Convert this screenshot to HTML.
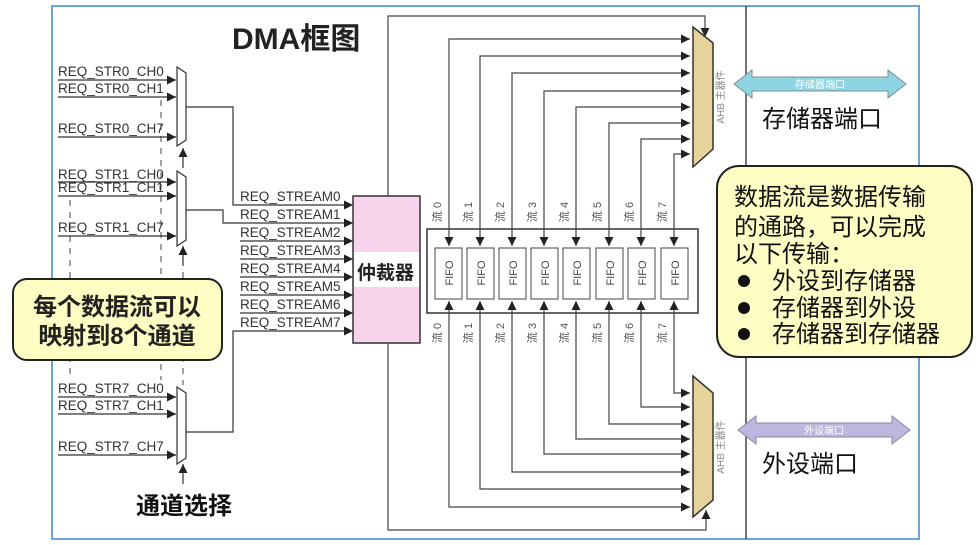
<!DOCTYPE html>
<html><head><meta charset="utf-8"><style>
html,body{margin:0;padding:0;background:#fff;}
svg{display:block;}
text{font-family:"Liberation Sans","Noto Sans CJK SC",sans-serif;}
</style></head><body>
<svg width="977" height="545" viewBox="0 0 977 545" xmlns="http://www.w3.org/2000/svg">
<defs>
<marker id="a" viewBox="0 0 10 10" refX="10" refY="5" markerWidth="9" markerHeight="9" markerUnits="userSpaceOnUse" orient="auto-start-reverse">
<path d="M0,0 L10,5 L0,10 z" fill="#222"/>
</marker>
</defs>
<rect x="52" y="6" width="867" height="533" fill="#fff" stroke="#6aa3df" stroke-width="2"/>
<line x1="746" y1="6" x2="746" y2="539" stroke="#444" stroke-width="1.5"/>
<text x="232" y="49" font-size="30" font-weight="bold" fill="#222">DMA框图</text>

<g stroke="#444" stroke-width="1" stroke-dasharray="6,6" fill="none">
<line x1="70" y1="200" x2="70" y2="380"/>
<line x1="161" y1="100" x2="161" y2="380"/>
<line x1="183" y1="150" x2="183" y2="168"/>
<line x1="183" y1="248" x2="183" y2="385"/>
</g>

<g font-size="13.5" fill="#333" stroke="none">
<text x="58" y="76">REQ_STR0_CH0</text>
<text x="58" y="93">REQ_STR0_CH1</text>
<text x="58" y="133">REQ_STR0_CH7</text>
<text x="58" y="179">REQ_STR1_CH0</text>
<text x="58" y="192">REQ_STR1_CH1</text>
<text x="58" y="232">REQ_STR1_CH7</text>
<text x="58" y="393">REQ_STR7_CH0</text>
<text x="58" y="410">REQ_STR7_CH1</text>
<text x="58" y="451">REQ_STR7_CH7</text>
</g>
<g stroke="#333" stroke-width="1.2" fill="none">
<line x1="58" y1="80" x2="176" y2="80" marker-end="url(#a)"/>
<line x1="58" y1="97" x2="176" y2="97" marker-end="url(#a)"/>
<line x1="58" y1="137" x2="176" y2="137" marker-end="url(#a)"/>
<line x1="58" y1="182" x2="176" y2="182" marker-end="url(#a)"/>
<line x1="58" y1="196" x2="176" y2="196" marker-end="url(#a)"/>
<line x1="58" y1="236" x2="176" y2="236" marker-end="url(#a)"/>
<line x1="58" y1="397" x2="176" y2="397" marker-end="url(#a)"/>
<line x1="58" y1="414" x2="176" y2="414" marker-end="url(#a)"/>
<line x1="58" y1="455" x2="176" y2="455" marker-end="url(#a)"/>
<line x1="183" y1="168" x2="183" y2="148" marker-end="url(#a)"/>
<line x1="183" y1="266" x2="183" y2="246" marker-end="url(#a)"/>
<line x1="183" y1="484" x2="183" y2="464" marker-end="url(#a)"/>
<polygon points="177,67 186,73 186,140 177,146" fill="#fff"/>
<polygon points="177,171 186,177 186,240 177,246" fill="#fff"/>
<polygon points="177,387 186,393 186,458 177,464" fill="#fff"/>
<polyline points="186,107 233,107 233,205 353,205" marker-end="url(#a)"/>
<polyline points="186,210 223,210 223,223 353,223" marker-end="url(#a)"/>
<polyline points="186,432 233,432 233,331 353,331" marker-end="url(#a)"/>
<line x1="240" y1="241" x2="353" y2="241" marker-end="url(#a)"/>
<line x1="240" y1="259" x2="353" y2="259" marker-end="url(#a)"/>
<line x1="240" y1="277" x2="353" y2="277" marker-end="url(#a)"/>
<line x1="240" y1="295" x2="353" y2="295" marker-end="url(#a)"/>
<line x1="240" y1="313" x2="353" y2="313" marker-end="url(#a)"/>
</g>
<g font-size="13.5" fill="#333">
<text x="240" y="201">REQ_STREAM0</text>
<text x="240" y="219">REQ_STREAM1</text>
<text x="240" y="237">REQ_STREAM2</text>
<text x="240" y="255">REQ_STREAM3</text>
<text x="240" y="273">REQ_STREAM4</text>
<text x="240" y="291">REQ_STREAM5</text>
<text x="240" y="309">REQ_STREAM6</text>
<text x="240" y="327">REQ_STREAM7</text>
</g>

<rect x="353" y="196" width="67" height="147" fill="#f7d3ec" stroke="#333" stroke-width="1.5"/>
<rect x="354" y="252" width="65" height="35" fill="#fff"/>
<text x="357" y="279" font-size="19" font-weight="bold" fill="#222">仲裁器</text>
<g stroke="#444" stroke-width="1.2" fill="none">
<polyline points="388,196 388,16 705,16 705,37" marker-end="url(#a)"/>
<polyline points="388,343 388,530 706,530 706,510" marker-end="url(#a)"/>
</g>

<rect x="427" y="229" width="271" height="84" fill="#fff" stroke="#333" stroke-width="1.5"/>
<g stroke="#444" stroke-width="1" fill="#fff">
<rect x="435" y="248" width="27" height="51"/><rect x="467" y="248" width="27" height="51"/>
<rect x="499" y="248" width="27" height="51"/><rect x="531" y="248" width="27" height="51"/>
<rect x="563" y="248" width="27" height="51"/><rect x="596" y="248" width="27" height="51"/>
<rect x="628" y="248" width="27" height="51"/><rect x="661" y="248" width="27" height="51"/>
</g>
<g font-size="11" fill="#444" text-anchor="middle">
<text transform="translate(453,273) rotate(-90)">FIFO</text>
<text transform="translate(485,273) rotate(-90)">FIFO</text>
<text transform="translate(517,273) rotate(-90)">FIFO</text>
<text transform="translate(549,273) rotate(-90)">FIFO</text>
<text transform="translate(581,273) rotate(-90)">FIFO</text>
<text transform="translate(614,273) rotate(-90)">FIFO</text>
<text transform="translate(646,273) rotate(-90)">FIFO</text>
<text transform="translate(679,273) rotate(-90)">FIFO</text>
</g>
<g stroke="#444" stroke-width="1.2" fill="none">
<polyline points="449,246 449,39 690,39" marker-start="url(#a)" marker-end="url(#a)"/>
<polyline points="480,246 480,56 690,56" marker-start="url(#a)" marker-end="url(#a)"/>
<polyline points="512,246 512,73 690,73" marker-start="url(#a)" marker-end="url(#a)"/>
<polyline points="544,246 544,91 690,91" marker-start="url(#a)" marker-end="url(#a)"/>
<polyline points="576,246 576,107 690,107" marker-start="url(#a)" marker-end="url(#a)"/>
<polyline points="609,246 609,123 690,123" marker-start="url(#a)" marker-end="url(#a)"/>
<polyline points="641,246 641,139 690,139" marker-start="url(#a)" marker-end="url(#a)"/>
<polyline points="674,246 674,154 690,154" marker-start="url(#a)" marker-end="url(#a)"/>
<polyline points="449,301 449,507 690,507" marker-start="url(#a)" marker-end="url(#a)"/>
<polyline points="480,301 480,489 690,489" marker-start="url(#a)" marker-end="url(#a)"/>
<polyline points="512,301 512,472 690,472" marker-start="url(#a)" marker-end="url(#a)"/>
<polyline points="544,301 544,454 690,454" marker-start="url(#a)" marker-end="url(#a)"/>
<polyline points="576,301 576,439 690,439" marker-start="url(#a)" marker-end="url(#a)"/>
<polyline points="609,301 609,424 690,424" marker-start="url(#a)" marker-end="url(#a)"/>
<polyline points="641,301 641,407 690,407" marker-start="url(#a)" marker-end="url(#a)"/>
<polyline points="674,301 674,393 690,393" marker-start="url(#a)" marker-end="url(#a)"/>
</g>
<g font-size="11" fill="#555" text-anchor="middle">
<text transform="translate(441,212) rotate(-90)">流 0</text>
<text transform="translate(472,212) rotate(-90)">流 1</text>
<text transform="translate(504,212) rotate(-90)">流 2</text>
<text transform="translate(536,212) rotate(-90)">流 3</text>
<text transform="translate(568,212) rotate(-90)">流 4</text>
<text transform="translate(601,212) rotate(-90)">流 5</text>
<text transform="translate(633,212) rotate(-90)">流 6</text>
<text transform="translate(666,212) rotate(-90)">流 7</text>
<text transform="translate(441,333) rotate(-90)">流 0</text>
<text transform="translate(472,333) rotate(-90)">流 1</text>
<text transform="translate(504,333) rotate(-90)">流 2</text>
<text transform="translate(536,333) rotate(-90)">流 3</text>
<text transform="translate(568,333) rotate(-90)">流 4</text>
<text transform="translate(601,333) rotate(-90)">流 5</text>
<text transform="translate(633,333) rotate(-90)">流 6</text>
<text transform="translate(666,333) rotate(-90)">流 7</text>
</g>

<polygon points="693,27 713,43 713,149 693,167" fill="#e6d39c" stroke="#333" stroke-width="1.5"/>
<polygon points="693,376 713,393 713,500 693,517" fill="#e6d39c" stroke="#333" stroke-width="1.5"/>
<g font-size="10" fill="#888" text-anchor="middle">
<text transform="translate(724,97) rotate(-90)">AHB 主器件</text>
<text transform="translate(724,447) rotate(-90)">AHB 主器件</text>
</g>

<polygon points="734,84 752,70 752,77 888,77 888,70 906,84 888,98 888,91 752,91 752,98" fill="#8fd4e2" stroke="#7a8f96" stroke-width="1"/>
<text x="820" y="88" font-size="10" fill="#fff" text-anchor="middle">存储器端口</text>
<text x="762" y="127" font-size="24" fill="#111">存储器端口</text>
<polygon points="738,430 756,416 756,423 892,423 892,416 910,430 892,444 892,437 756,437 756,444" fill="#bdb6de" stroke="#8a86a0" stroke-width="1"/>
<text x="824" y="434" font-size="10" fill="#fff" text-anchor="middle">外设端口</text>
<text x="762" y="472" font-size="24" fill="#111">外设端口</text>

<rect x="717" y="166" width="255" height="191" rx="22" fill="#fefdc4" stroke="#222" stroke-width="2"/>
<g font-size="24" fill="#111">
<text x="734" y="205">数据流是数据传输</text>
<text x="734" y="235">的通路，可以完成</text>
<text x="734" y="262">以下传输：</text>
<text x="772" y="289">外设到存储器</text>
<text x="772" y="316">存储器到外设</text>
<text x="772" y="342">存储器到存储器</text>
</g>
<g fill="#111">
<circle cx="744" cy="281" r="6"/>
<circle cx="744" cy="308" r="6"/>
<circle cx="744" cy="334" r="6"/>
</g>
<rect x="13" y="279" width="209" height="81" rx="14" fill="#fefdc4" stroke="#222" stroke-width="2"/>
<g font-size="24" font-weight="bold" fill="#222" text-anchor="middle">
<text x="117" y="315">每个数据流可以</text>
<text x="117" y="344">映射到8个通道</text>
</g>
<text x="136" y="514" font-size="24" font-weight="bold" fill="#111">通道选择</text>
</svg>
</body></html>
